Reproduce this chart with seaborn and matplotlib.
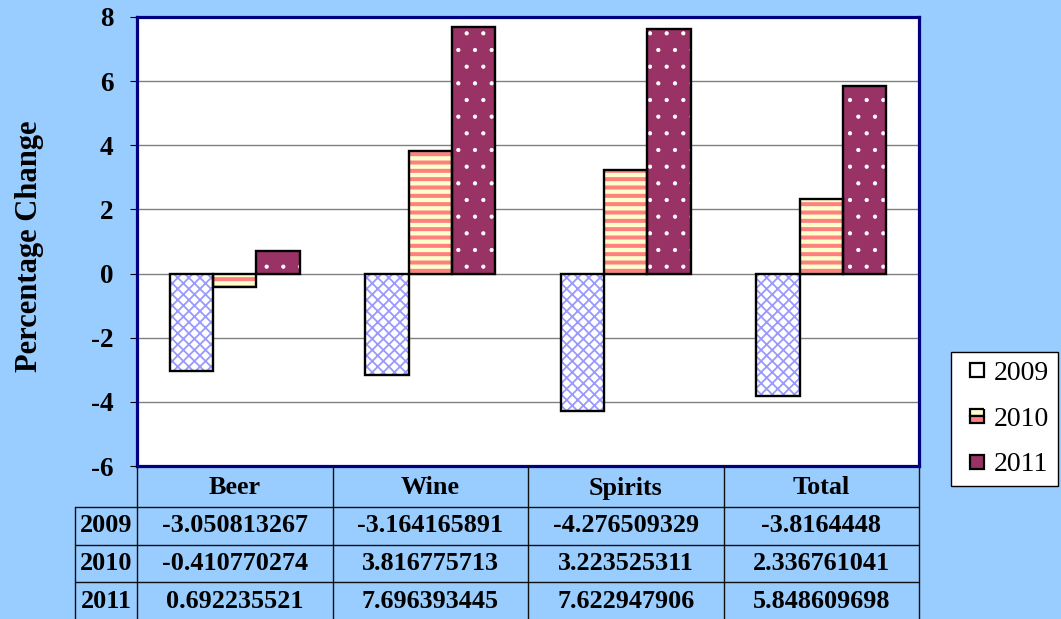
import pandas as pd
import matplotlib.pyplot as plt
import seaborn as sns
from matplotlib.patches import Rectangle
from matplotlib.lines import Line2D

## Chart data

categories = ["Beer", "Wine", "Spirits", "Total"]
years = ["2009", "2010", "2011"]
values_2009 = [-3.050813267, -3.164165891, -4.276509329, -3.8164448]
values_2010 = [-0.410770274, 3.816775713, 3.223525311, 2.336761041]
values_2011 = [0.692235521, 7.696393445, 7.622947906, 5.848609698]
y_ticks = [-6, -4, -2, 0, 2, 4, 6, 8]

series = {"2009": values_2009, "2010": values_2010, "2011": values_2011}

df = pd.DataFrame(
    [(cat, yr, series[yr][i]) for yr in years for i, cat in enumerate(categories)],
    columns=["category", "year", "change"],
)

## Styles

BG = "#99CCFF"
NAVY = "#000080"
face = {"2009": "white", "2010": "#FFFFCC", "2011": "#993366"}
hatch_col = {"2009": "#9999FF", "2010": "#FF8080", "2011": "white"}
hatch = {"2009": "xxx", "2010": "--", "2011": "."}
hatch_lw = {"2009": 1.3, "2010": 2.9, "2011": 0.6}

sns.set_style("white")
plt.rcParams["font.family"] = ["Liberation Serif", "DejaVu Serif"]
plt.rcParams["font.weight"] = "bold"
plt.rcParams["text.color"] = "black"
plt.rcParams["axes.labelcolor"] = "black"
plt.rcParams["ytick.color"] = "black"

fig = plt.figure(figsize=(10.61, 6.19), dpi=100, facecolor=BG)
W, H = 1061, 619
ax = fig.add_axes([137 / W, 1 - 466 / H, 782 / W, 449 / H])
ax.set_facecolor("white")

sns.barplot(
    data=df, x="category", y="change", hue="year", order=categories,
    hue_order=years, width=0.667, legend=False, ax=ax, saturation=1,
)

# restyle bars: coloured hatch first, then a black outline on top
n = len(categories)
for k, patch in enumerate(ax.patches[: n * len(years)]):
    yr = years[k // n]
    patch.set_facecolor(face[yr])
    patch.set_edgecolor(hatch_col[yr])
    patch.set_hatch(hatch[yr])
    patch.set_linewidth(0)
    if hasattr(patch, "set_hatch_linewidth"):
        patch.set_hatch_linewidth(hatch_lw[yr])
    ax.add_patch(Rectangle((patch.get_x(), patch.get_y()), patch.get_width(),
                           patch.get_height(), fill=False, edgecolor="black",
                           linewidth=1.7, zorder=3))

ax.set_ylim(-6, 8)
ax.set_yticks(y_ticks)
ax.set_yticklabels([str(t) for t in y_ticks], fontsize=19.5, fontweight="bold")
ax.yaxis.grid(True, color="#808080", linewidth=1.0)
ax.set_axisbelow(True)
ax.tick_params(axis="y", left=True, length=5, width=0.8, color="black", pad=12)
ax.set_xticks([])
ax.set_xlabel("")
ax.set_ylabel("")
for s in ax.spines.values():
    s.set_color(NAVY)
    s.set_linewidth(2.3)

fig.text(29 / W, 1 - 246 / H, "Percentage Change", rotation=90, ha="center",
         va="center", fontsize=22, fontweight="bold")

## Data table below the plot

col_edges = [137, 333, 528, 724, 919]
row_edges = [466, 507, 545, 582, 620]
lab_left = 75


def fx(px):
    return px / W


def fy(py):
    return 1 - py / H


line_kw = dict(color="#101010", linewidth=1.0, transform=fig.transFigure)
for x in col_edges:
    fig.add_artist(Line2D([fx(x), fx(x)], [fy(466), fy(630)], **line_kw))
fig.add_artist(Line2D([fx(lab_left), fx(lab_left)], [fy(507), fy(630)], **line_kw))
for y in row_edges[1:]:
    fig.add_artist(Line2D([fx(lab_left), fx(919)], [fy(y), fy(y)], **line_kw))

for i, cat in enumerate(categories):
    cx = (col_edges[i] + col_edges[i + 1]) / 2
    fig.text(fx(cx), fy(488), cat, ha="center", va="center", fontsize=18.8,
             fontweight="bold")
for r, yr in enumerate(years):
    cy = (row_edges[r + 1] + row_edges[r + 2]) / 2
    fig.text(fx((lab_left + 137) / 2), fy(cy), yr, ha="center", va="center",
             fontsize=18.8, fontweight="bold")
    for i, v in enumerate(series[yr]):
        cx = (col_edges[i] + col_edges[i + 1]) / 2
        fig.text(fx(cx), fy(cy), "{:.10g}".format(v), ha="center", va="center",
                 fontsize=18.8, fontweight="bold")

## Legend

handles = [
    Line2D([], [], linestyle="none", marker="s", markersize=9.5,
           markerfacecolor="white", markeredgecolor="black",
           markeredgewidth=1.6, label="2009"),
    Line2D([], [], linestyle="none", marker="s", markersize=9.5,
           fillstyle="top", markerfacecolor="#FFFFCC",
           markerfacecoloralt="#FF8080", markeredgecolor="black",
           markeredgewidth=1.6, label="2010"),
    Line2D([], [], linestyle="none", marker="s", markersize=9.5,
           markerfacecolor="#993366", markeredgecolor="black",
           markeredgewidth=1.6, label="2011"),
]
leg = fig.legend(
    handles=handles, loc="upper left", bbox_to_anchor=(fx(951), fy(352)),
    frameon=True, fancybox=False, edgecolor="black", framealpha=1,
    handlelength=1.3, handletextpad=-0.05,
    labelspacing=0.73, borderpad=0.3, borderaxespad=0,
    prop={"size": 20, "weight": "normal"},
)
leg.get_frame().set_linewidth(1.0)

plt.savefig("out.png", dpi=100, facecolor=BG)
